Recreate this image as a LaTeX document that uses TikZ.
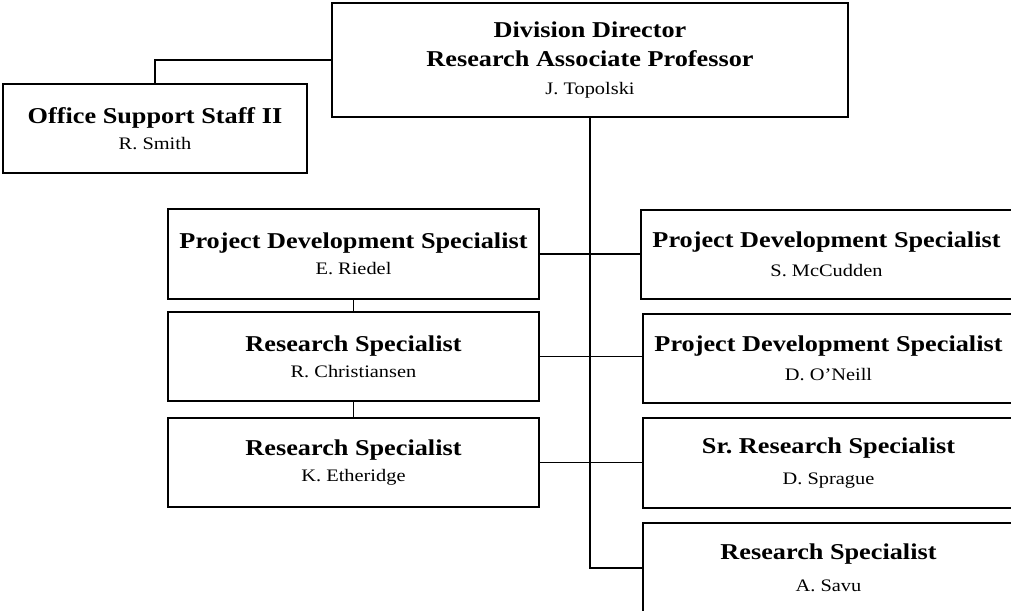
\documentclass[tikz,border=0pt]{standalone}
\usepackage{fontspec}
\setmainfont{Liberation Serif}[FakeStretch=1.16]
\usepackage{tikz}
\usetikzlibrary{positioning}
\newcommand{\titlesize}{\fontsize{16.1}{20.6}\selectfont\bfseries}
\newcommand{\namesize}{\fontsize{12.5}{17.8}\selectfont\mdseries}
\tikzset{post/.style={shape=rectangle, draw=black, line width=1.3pt, fill=white,
    align=center, inner sep=0pt, font=\titlesize}}

\begin{document}
\begin{tikzpicture}[line width=1pt]
    \tikzstyle{wide post}=[post, minimum width=9.275cm, minimum height=2.24cm]
    \clip (0,0) rectangle (25.275,-15.275);

    \node[post, minimum width=12.9cm, minimum height=2.85cm] (director) at (14.75, -1.5)
        {Division Director\\Research Associate Professor\\[-1pt]\namesize J. Topolski};
    \node[post, minimum width=7.6cm, minimum height=2.225cm] (office) at (3.875, -3.2125)
        {Office Support Staff II\\[-2pt]\namesize R. Smith};

    \node[wide post] (riedel) at (8.8375, -6.35)
        {Project Development Specialist\\[-2pt]\namesize E. Riedel};
    \node[wide post] (christiansen) at (8.8375, -8.9125)
        {Research Specialist\\[-2pt]\namesize R. Christiansen};
    \node[wide post] (etheridge) at (8.8375, -11.5625)
        {Research Specialist\\[-2pt]\namesize K. Etheridge};

    \node[wide post] (mccudden) at (20.6625, -6.3625)
        {Project Development Specialist\\[0pt]\namesize S. McCudden};
    \node[wide post] (oneill) at (20.7125, -8.9625)
        {Project Development Specialist\\[0pt]\namesize D. O'Neill};
    \node[wide post] (sprague) at (20.7125, -11.575)
        {Sr.\ Research Specialist\\[1pt]\namesize D. Sprague};
    \node[wide post] (savu) at (20.7125, -14.2)
        {Research Specialist\\[2pt]\namesize A. Savu};

    \draw (director.west) -| (office.north);
    \draw (director.south) |- (savu.west);

    \draw (riedel.south) -- (christiansen.north);
    \draw (christiansen.south) -- (etheridge.north);

    \draw (riedel.east) -- (riedel.east -| mccudden.west);
    \draw (christiansen.east) -- (christiansen.east -| oneill.west);
    \draw (etheridge.east) -- (etheridge.east -| sprague.west);

\end{tikzpicture}
\end{document}
